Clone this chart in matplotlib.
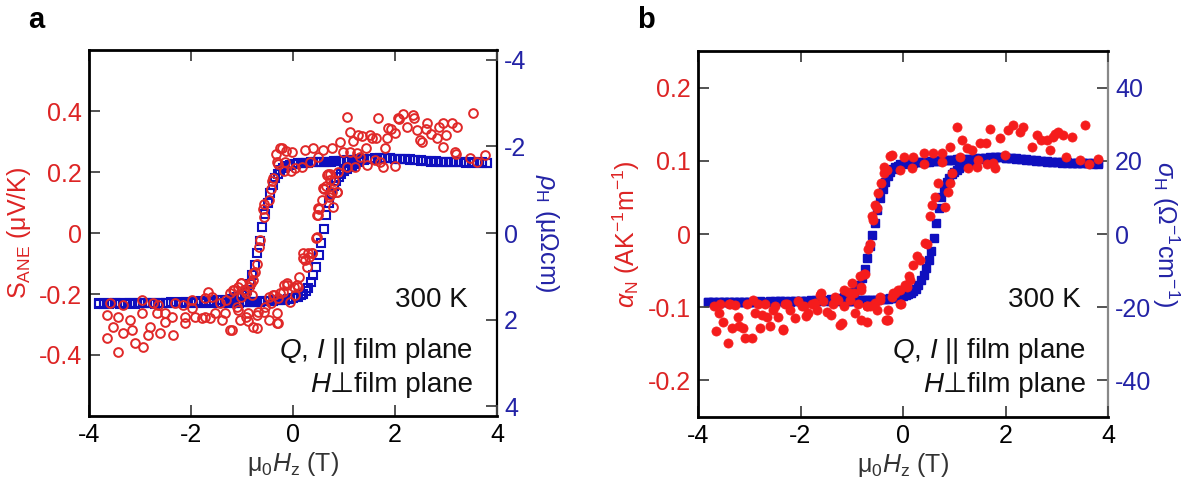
import matplotlib
matplotlib.use("Agg")
import matplotlib.pyplot as plt

plt.rcParams['font.family'] = ['Liberation Sans', 'DejaVu Sans']
plt.rcParams['mathtext.fontset'] = 'custom'
plt.rcParams['mathtext.rm'] = 'Liberation Sans'
plt.rcParams['mathtext.it'] = 'Liberation Sans:italic'
plt.rcParams['mathtext.bf'] = 'Liberation Sans:bold'
plt.rcParams['axes.unicode_minus'] = False

# ---------------- data ----------------
x_ticks = [-4, -2, 0, 2, 4]
x_ticklabels = ['-4', '-2', '0', '2', '4']
a_left_ticks = [-0.4, -0.2, 0, 0.2, 0.4]
a_left_labels = ['-0.4', '-0.2', '0', '0.2', '0.4']
a_right_ticks = [-4, -2, 0, 2, 4]
a_right_labels = ['-4', '-2', '0', '2', '4']
b_left_ticks = [-0.2, -0.1, 0, 0.1, 0.2]
b_left_labels = ['-0.2', '-0.1', '0', '0.1', '0.2']
b_right_ticks = [-40, -20, 0, 20, 40]
b_right_labels = ['-40', '-20', '0', '20', '40']

# field sweep of the Hall measurement (T)
field_hall = [-3.8, -3.7, -3.6, -3.5, -3.4, -3.3, -3.2, -3.1, -3.0, -2.9, -2.8, -2.7, -2.6,
              -2.5, -2.4, -2.3, -2.2, -2.1, -2.0, -1.9, -1.8, -1.7, -1.6, -1.5, -1.4, -1.3,
              -1.2, -1.15, -1.1, -1.05, -1.0, -0.95, -0.9, -0.85, -0.8, -0.75, -0.7, -0.65,
              -0.6, -0.55, -0.5, -0.45, -0.4, -0.35, -0.3, -0.25, -0.2, -0.15, -0.1, -0.05,
              0.0, 0.05, 0.1, 0.15, 0.2, 0.25, 0.3, 0.35, 0.4, 0.45, 0.5, 0.55, 0.6, 0.65,
              0.7, 0.75, 0.8, 0.85, 0.9, 0.95, 1.0, 1.05, 1.1, 1.15, 1.2,
              1.3, 1.4, 1.5, 1.6, 1.7, 1.8, 1.9, 2.0, 2.1, 2.2, 2.3, 2.4, 2.5, 2.6, 2.7,
              2.8, 2.9, 3.0, 3.1, 3.2, 3.3, 3.4, 3.5, 3.6, 3.7, 3.8]

# rho_H (uOhm cm), down-sweep and up-sweep branches
rho_down = [1.63, 1.62, 1.63, 1.62, 1.62, 1.63, 1.62, 1.61, 1.62, 1.62, 1.61, 1.62, 1.61,
            1.61, 1.60, 1.61, 1.60, 1.60, 1.59, 1.59, 1.58, 1.58, 1.57, 1.56, 1.55, 1.54,
            1.52, 1.51, 1.49, 1.47, 1.44, 1.39, 1.31, 1.17, 0.98, 0.74, 0.46, 0.18,
            -0.14, -0.44, -0.70, -0.92, -1.12, -1.28, -1.37, -1.45, -1.50, -1.53, -1.56, -1.58,
            -1.59, -1.60, -1.61, -1.61, -1.62, -1.62, -1.62, -1.63, -1.63, -1.63, -1.64, -1.64,
            -1.64, -1.65, -1.65, -1.65, -1.66, -1.66, -1.67, -1.67, -1.67, -1.68, -1.68, -1.68, -1.69,
            -1.70, -1.71, -1.72, -1.72, -1.73, -1.73, -1.73, -1.72, -1.72, -1.71, -1.70, -1.69, -1.68,
            -1.67, -1.66, -1.66, -1.65, -1.65, -1.64, -1.64, -1.64, -1.63, -1.63, -1.63, -1.63, -1.62]
rho_up = [1.62, 1.63, 1.62, 1.62, 1.63, 1.62, 1.62, 1.63, 1.62, 1.62, 1.62, 1.63, 1.62,
          1.62, 1.62, 1.62, 1.62, 1.62, 1.62, 1.62, 1.62, 1.61, 1.62, 1.62, 1.61, 1.61,
          1.61, 1.61, 1.61, 1.61, 1.60, 1.60, 1.60, 1.60, 1.60, 1.59, 1.59, 1.59,
          1.58, 1.58, 1.58, 1.57, 1.57, 1.56, 1.56, 1.55, 1.55, 1.54, 1.53, 1.52,
          1.51, 1.49, 1.47, 1.44, 1.40, 1.34, 1.26, 1.14, 0.98, 0.78, 0.52, 0.22,
          -0.10, -0.42, -0.70, -0.92, -1.09, -1.21, -1.30, -1.37, -1.43, -1.48, -1.52, -1.56, -1.59,
          -1.64, -1.68, -1.71, -1.73, -1.74, -1.74, -1.73, -1.72, -1.71, -1.70, -1.69, -1.68, -1.67,
          -1.66, -1.65, -1.65, -1.64, -1.64, -1.63, -1.63, -1.63, -1.62, -1.62, -1.62, -1.62, -1.62]

# sigma_H (Ohm^-1 cm^-1)
sigma_down = [-18.6, -18.5, -18.6, -18.5, -18.6, -18.5, -18.5, -18.6, -18.5, -18.5, -18.4, -18.5, -18.4,
              -18.4, -18.4, -18.3, -18.3, -18.3, -18.2, -18.2, -18.1, -18.1, -18.0, -17.9, -17.8, -17.7,
              -17.5, -17.3, -17.1, -16.8, -16.4, -15.8, -15.0, -13.8, -12.0, -9.6, -6.6, -3.4,
              -0.2, 3.0, 6.6, 9.8, 12.4, 14.3, 15.8, 16.9, 17.7, 18.3, 18.7, 19.0,
              19.2, 19.3, 19.4, 19.5, 19.5, 19.6, 19.6, 19.7, 19.7, 19.8, 19.8, 19.9,
              19.9, 20.0, 20.0, 20.1, 20.1, 20.2, 20.2, 20.3, 20.3, 20.4, 20.4, 20.5, 20.5,
              20.6, 20.7, 20.8, 20.9, 21.0, 21.0, 21.0, 20.9, 20.8, 20.7, 20.5, 20.4, 20.2,
              20.1, 20.0, 19.9, 19.8, 19.7, 19.6, 19.6, 19.5, 19.5, 19.4, 19.4, 19.3, 19.3]
sigma_up = [-18.5, -18.6, -18.5, -18.5, -18.6, -18.5, -18.5, -18.5, -18.6, -18.5, -18.5, -18.5, -18.5,
            -18.5, -18.4, -18.5, -18.5, -18.4, -18.4, -18.4, -18.4, -18.4, -18.4, -18.3, -18.3, -18.3,
            -18.3, -18.3, -18.2, -18.2, -18.2, -18.2, -18.1, -18.1, -18.1, -18.0, -18.0, -18.0,
            -17.9, -17.9, -17.9, -17.8, -17.8, -17.7, -17.7, -17.6, -17.5, -17.4, -17.3, -17.2,
            -17.0, -16.8, -16.5, -16.1, -15.6, -14.9, -13.9, -12.7, -11.1, -9.3, -7.2, -4.6,
            -1.2, 3.0, 7.0, 10.2, 12.5, 14.2, 15.4, 16.3, 17.0, 17.6, 18.1, 18.5, 18.9,
            19.5, 20.0, 20.4, 20.7, 20.9, 21.0, 21.0, 20.9, 20.8, 20.6, 20.5, 20.3, 20.1,
            20.0, 19.9, 19.8, 19.7, 19.6, 19.5, 19.5, 19.4, 19.4, 19.3, 19.3, 19.2, 19.2]

# S_ANE (uV/K) scattered points
field_S = [3.53, 1.67, 2.16, 2.35, 2.06, 1.05, 1.12, 1.28, 1.51, 1.87, 2.0, 2.23, 2.43, 2.62, 2.94,
           3.11, 3.21, 2.49, 2.82, 2.94, 3.18, 3.47, 3.76, 1.76, 1.61, 1.45, 1.22, 1.06, 0.88, 0.73,
           0.67, 0.59, 0.76, 0.86, 0.73, 0.78, 0.49, 0.49, 0.47, 0.29, 0.2, 0.37,
           -0.25, -0.02, 0.24, 0.39, 0.59, 0.76, 0.92, 0.98, 1.12, 1.25, -0.31, -0.16, 0.04, 0.17,
           0.33, 0.49, -0.39,
           2.71, 2.52, 2.37, 2.07, 1.85, 1.62, 1.36, 1.17, 1.81, 3.2, 3.61, 2.0, 1.7, 1.32, 3.0,
           2.86, 1.44, 1.92, 2.6, 1.55,
           -0.41, -0.43, -0.48, -0.56, -0.57, -0.59, -0.65, -0.67, -0.71, -0.74, -0.78, -0.82,
           -0.86, -0.93, -1.01, -1.08, -1.16, -1.23, -1.31, -0.33, -0.22, -0.14, -0.29, -0.18, -0.03,
           0.12, 0.08, 0.01, -0.11, -0.18, -0.26, -0.37, -0.29, -0.44, -0.56, -0.71, -0.29, -0.48,
           -0.78, -0.89, -0.93, -1.08, -1.23, 0.27, 0.23, 0.31, 0.38, 0.46, 0.2, 0.51, 0.56, 0.61,
           0.65, 0.68, 0.72, 0.8, 0.87, 0.71, 0.48,
           -3.59, -3.65, -3.65, -3.52, -3.43, -3.43, -3.33, -3.33, -3.2, -3.16, -3.1, -2.97, -2.97,
           -2.94, -2.84, -2.8, -2.74, -2.67, -2.64, -2.61, -2.51, -2.51, -2.38, -2.35, -2.31, -2.15,
           -2.12, -2.12, -1.99, -1.99, -1.92, -1.79, -1.73, -1.66, -1.59, -1.63, -1.53, -1.43, -1.4,
           -1.33, -1.2, -1.17, -1.1, -1.04, -1.01, -1.01, -0.97, -0.88, -0.84, -0.81, -0.78, -0.71,
           -0.68, -0.55, -0.48, -0.39, -0.32, -0.32, -0.19, -0.12, -0.06, 0.04, 0.1, -1.73]
S_ane = [0.394, 0.377, 0.39, 0.386, 0.377, 0.381, 0.331, 0.32, 0.32, 0.344, 0.328, 0.348, 0.338, 0.36, 0.36,
         0.36, 0.348, 0.305, 0.311, 0.282, 0.266, 0.246, 0.256, 0.217, 0.239, 0.223, 0.217, 0.217, 0.2, 0.174,
         0.19, 0.148, 0.134, 0.134, 0.125, 0.086, 0.082, 0.059, -0.013, -0.066, -0.082, -0.066,
         0.279, 0.266, 0.272, 0.279, 0.272, 0.279, 0.299, 0.266, 0.266, 0.262, 0.233, 0.233, 0.213, 0.217,
         0.233, 0.249, 0.18,
         0.324, 0.297, 0.378, 0.373, 0.313, 0.313, 0.318, 0.302, 0.28, 0.259, 0.232, 0.221, 0.232, 0.248, 0.32,
         0.346, 0.28, 0.34, 0.34, 0.31,
         0.172, 0.145, 0.107, 0.096, 0.052, 0.079, -0.024, -0.046, -0.1, -0.127, -0.154, -0.165,
         -0.176, -0.198, -0.165, -0.176, -0.187, -0.198, -0.22, 0.259, 0.28, 0.27, 0.226, 0.204, 0.204,
         -0.143, -0.171, -0.176, -0.165, -0.171, -0.198, -0.203, -0.214, -0.23, -0.258, -0.268, -0.296, -0.285,
         -0.307, -0.29, -0.274, -0.252, -0.317, -0.111, -0.089, -0.078, -0.067, -0.018, -0.067, 0.079, 0.107, 0.145,
         0.155, 0.193, 0.193, 0.172, 0.134, 0.117, 0.058,
         -0.231, -0.269, -0.345, -0.307, -0.389, -0.275, -0.236, -0.329, -0.285, -0.318, -0.362, -0.22, -0.263,
         -0.373, -0.335, -0.307, -0.231, -0.263, -0.236, -0.329, -0.263, -0.291, -0.275, -0.335, -0.231, -0.236,
         -0.275, -0.296, -0.22, -0.247, -0.275, -0.28, -0.214, -0.193, -0.209, -0.28, -0.263, -0.231, -0.285,
         -0.263, -0.318, -0.187, -0.242, -0.285, -0.165, -0.209, -0.187, -0.263, -0.165, -0.203, -0.132, -0.313,
         -0.258, -0.242, -0.209, -0.203, -0.263, -0.296, -0.193, -0.171, -0.225, -0.203, -0.176, -0.275]

# alpha_N (A K^-1 m^-1) scattered points
field_alpha = [-3.64, -3.57, -3.6, -3.51, -3.41, -3.38, -3.34, -3.28, -3.21, -3.12, -3.08, -2.95, -2.92,
               -2.89, -2.79, -2.69, -2.66, -2.6, -2.53, -2.43, -2.34, -2.3, -2.2, -2.11, -2.04, -1.98,
               -1.85, -1.78, -1.68, -1.62, -1.56, -1.49, -1.36, -1.33, -1.2, -1.16, -1.07, -1.03, -1.0,
               -0.94, -0.87, -0.84, -0.77, -0.81, -0.71, -0.64, -0.51, -0.45, -0.32, -0.29, -0.22, -0.16,
               -0.09, -0.03, 0.04, 0.14,
               3.55, 3.29, 3.13, 2.97, 2.8, 2.61, 2.51, 2.35, 2.15, 2.05, 1.89, 1.7, 1.5, 1.34, 1.15,
               1.05, 0.92, 0.76, 0.59, 0.4, 0.2, 0.01, -0.22, -0.32, -0.06, 0.17, 0.4, 0.76, 1.11, 1.27,
               1.44, 1.63, 1.8, 1.99, 2.87, 3.19, 3.45, 3.62, 3.81, 0.95, 0.92, 0.69, 0.88, 0.62, 0.82, 0.53,
               0.46, 0.33, 0.2, 0.07, -0.06, -0.19, -0.29, -0.45, -0.06,
               -0.42, -0.51, -0.58, -0.64, -0.74, -0.81, -0.71, -0.38, -0.48, -0.55, -0.61, -0.68,
               2.28, 2.69, 3.03, 2.92, 1.61, 1.24, 1.76, 1.46, 0.57, 0.42, 0.27, 0.12, -0.25, -0.37, -0.55,
               -0.7, -0.81, -0.33, -1.22, -0.96, -1.15, -1.26, -1.6, -1.71, -1.93, -2.27, -2.49, -2.83,
               -3.05, -3.39, -3.69, -3.2, -2.75, -2.34, -1.9, -1.41]
alpha_N = [-0.133, -0.095, -0.108, -0.12, -0.149, -0.095, -0.129, -0.097, -0.113, -0.129, -0.142, -0.142, -0.09,
           -0.108, -0.129, -0.095, -0.113, -0.126, -0.104, -0.113, -0.131, -0.095, -0.104, -0.115, -0.092, -0.099,
           -0.108, -0.095, -0.104, -0.083, -0.092, -0.106, -0.095, -0.086, -0.122, -0.099, -0.079, -0.09, -0.067,
           -0.108, -0.095, -0.058, -0.054, -0.076, -0.12, -0.099, -0.104, -0.09, -0.117, -0.104, -0.086, -0.081,
           -0.076, -0.095, -0.07, -0.063,
           0.149, 0.133, 0.135, 0.137, 0.128, 0.135, 0.119, 0.146, 0.149, 0.142, 0.131, 0.144, 0.124, 0.115, 0.128,
           0.146, 0.119, 0.11, 0.11, 0.11, 0.105, 0.105, 0.108, 0.087, 0.087, 0.09, 0.096, 0.099, 0.105, 0.09,
           0.092, 0.096, 0.09, 0.108, 0.115, 0.105, 0.101, 0.096, 0.103, 0.083, 0.069, 0.069, 0.058, 0.051, 0.037, 0.024,
           -0.013, -0.035, -0.042, -0.072, -0.076, -0.081, -0.117, -0.086, -0.095,
           0.069, 0.035, 0.019, -0.013, -0.054, -0.072, -0.099, 0.092, 0.056, 0.04, 0.025, -0.02,
           0.14, 0.129, 0.14, 0.133, 0.124, 0.117, 0.097, 0.101, 0.04, -0.012, -0.03, -0.058, 0.106, 0.083, -0.094,
           -0.099, -0.117, -0.117, -0.124, -0.08, -0.076, -0.09, -0.08, -0.094, -0.099, -0.096, -0.099, -0.096,
           -0.096, -0.096, -0.099, -0.126, -0.11, -0.13, -0.112, -0.11]

# ---------------- styles ----------------
RED_TXT = '#dd2424'
RED_MK = '#e02828'
RED_FILL = '#f51c1c'
BLUE_TXT = '#2323a6'
BLUE_MK = '#0f0fbe'
TICK_C = '#444444'
TICK_FS = 18
LABEL_FS = 18
NOTE_FS = 20
TEXT_C = '#111111'

fig = plt.figure(figsize=(11.99, 4.8), dpi=100)


def style_axes(ax, ax2, right_spine_color):
    for s in ['left', 'bottom', 'top']:
        ax.spines[s].set_linewidth(2.0)
        ax.spines[s].set_color('black')
    ax2.spines['right'].set_linewidth(1.6)
    ax2.spines['right'].set_color(right_spine_color)
    for s in ['left', 'bottom', 'top']:
        ax2.spines[s].set_visible(False)
    ax.spines['right'].set_visible(False)
    ax.set_xlim(-4, 4)
    ax.set_xticks(x_ticks)
    ax.set_xticklabels(x_ticklabels)
    ax.tick_params(axis='x', which='both', direction='in', length=8, width=1.3, color=TICK_C,
                   top=True, labelsize=TICK_FS, labelcolor='black', pad=5)
    ax.tick_params(axis='y', direction='in', length=8, width=1.3, color=TICK_C,
                   labelsize=TICK_FS, labelcolor=RED_TXT, pad=5)
    ax2.tick_params(axis='y', direction='in', length=8, width=1.3, color=TICK_C,
                    labelsize=TICK_FS, labelcolor=BLUE_TXT, pad=5)
    ax.set_xlabel(r'μ$_\mathrm{0}$$\mathit{H}_\mathrm{z}$ (T)', fontsize=LABEL_FS, color='#333333', labelpad=2)
    ax.set_zorder(ax2.get_zorder() + 1)
    ax.patch.set_visible(False)


def notes(ax, x_right, y300, yq, yh):
    ax.text(x_right - 0.11, y300, '300 K', fontsize=NOTE_FS, ha='right', va='center', color=TEXT_C)
    ax.text(x_right, yq, r'$\mathit{Q}$, $\mathit{I}$ || film plane', fontsize=NOTE_FS, ha='right',
            va='center', color=TEXT_C)
    t = ax.text(x_right, yh, '\u22a5film plane', fontsize=NOTE_FS, ha='right', va='center',
                color=TEXT_C, family=['Liberation Sans', 'DejaVu Sans'])
    ax.annotate('H', xy=(0, 0), xycoords=t, ha='right', va='bottom', fontsize=NOTE_FS,
                fontstyle='italic', color=TEXT_C, family='Liberation Sans')


# ---------------- panel a ----------------
axa = fig.add_axes([89 / 1199, 64 / 480, 408 / 1199, 366 / 480])
axa2 = axa.twinx()
axa2.plot(field_hall, rho_up, ls='none', marker='s', ms=5.8, mfc='none', mec=BLUE_MK, mew=1.5)
axa2.plot(field_hall, rho_down, ls='none', marker='s', ms=5.8, mfc='none', mec=BLUE_MK, mew=1.5)
axa.plot(field_S, S_ane, ls='none', marker='o', ms=6.3, mfc='none', mec=RED_MK, mew=1.4)
axa.set_ylim(-0.6, 0.6)
axa2.set_ylim(4.23, -4.23)
axa.set_yticks(a_left_ticks)
axa.set_yticklabels(a_left_labels)
axa2.set_yticks(a_right_ticks)
axa2.set_yticklabels(a_right_labels)
style_axes(axa, axa2, 'black')
axa.set_ylabel(r'S$_\mathrm{ANE}$ (μV/K)', fontsize=LABEL_FS, color=RED_TXT, labelpad=4)
axa2.set_ylabel(r'$ρ_\mathrm{H}$ (μΩcm)', fontsize=LABEL_FS, color=BLUE_TXT, rotation=270, labelpad=25)
notes(axa, 3.53, -0.22, -0.387, -0.499)
fig.text(36 / 1199, 1 - 20 / 480, 'a', fontsize=21, fontweight='bold', ha='center', va='center')

# ---------------- panel b ----------------
axb = fig.add_axes([698 / 1199, 63 / 480, 410 / 1199, 366 / 480])
axb2 = axb.twinx()
axb2.plot(field_hall, sigma_up, ls='none', marker='s', ms=5.8, mfc=BLUE_MK, mec=BLUE_MK, mew=1.0)
axb2.plot(field_hall, sigma_down, ls='none', marker='s', ms=5.8, mfc=BLUE_MK, mec=BLUE_MK, mew=1.0)
axb.plot(field_alpha, alpha_N, ls='none', marker='o', ms=6.6, mfc=RED_FILL, mec=RED_FILL, mew=0.5)
axb.set_ylim(-0.25, 0.25)
axb2.set_ylim(-50, 50)
axb.set_yticks(b_left_ticks)
axb.set_yticklabels(b_left_labels)
axb2.set_yticks(b_right_ticks)
axb2.set_yticklabels(b_right_labels)
style_axes(axb, axb2, '#888888')
axb.set_ylabel(r'$α_\mathrm{N}$ (AK$^\mathrm{-1}$m$^\mathrm{-1}$)', fontsize=LABEL_FS, color=RED_TXT, labelpad=4)
axb2.set_ylabel(r'$σ_\mathrm{H}$ (Ω$^\mathrm{-1}$cm$^\mathrm{-1}$)', fontsize=LABEL_FS, color=BLUE_TXT,
                rotation=270, labelpad=22)
notes(axb, 3.58, -0.09, -0.16, -0.206)
fig.text(646 / 1199, 1 - 20 / 480, 'b', fontsize=21, fontweight='bold', ha='center', va='center')

fig.savefig('out.png', dpi=100)
